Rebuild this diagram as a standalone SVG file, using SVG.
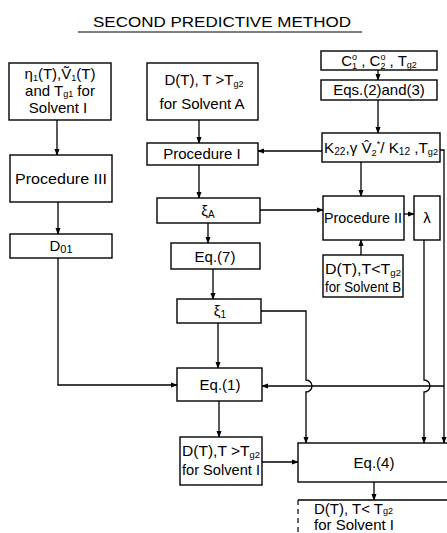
<svg xmlns="http://www.w3.org/2000/svg" width="447" height="533" viewBox="0 0 447 533">
<style>
.b{fill:#fff;stroke:#000;stroke-width:1.4}
.t{font-family:"Liberation Sans",Arial,sans-serif;font-size:15px;fill:#000}
.c{stroke:#000;stroke-width:1.3;fill:none}
.a{stroke:#000;stroke-width:1.3;fill:none;marker-end:url(#ah)}
</style>
<defs>
<marker id="ah" markerWidth="7" markerHeight="6" refX="6" refY="3" orient="auto" markerUnits="userSpaceOnUse">
<path d="M0,0.5 L7,3 L0,5.5 Z" fill="#000"/>
</marker>
</defs>
<rect width="447" height="533" fill="#fff"/>
<g id="title">
<text class="t" x="222" y="27" text-anchor="middle" font-size="16" textLength="258" lengthAdjust="spacingAndGlyphs">SECOND PREDICTIVE METHOD</text>
<line x1="78" y1="32" x2="362" y2="32" stroke="#000" stroke-width="1.2"/>
</g>
<g id="connectors">
<line class="a" x1="57" y1="120" x2="57" y2="155"/>
<line class="a" x1="199" y1="120" x2="199" y2="143"/>
<line class="a" x1="378" y1="70" x2="378" y2="80"/>
<line class="a" x1="378" y1="100" x2="378" y2="133"/>
<line class="a" x1="322" y1="151" x2="258" y2="151"/>
<line class="a" x1="199" y1="165" x2="199" y2="198"/>
<line class="a" x1="361" y1="162" x2="361" y2="196"/>
<line class="a" x1="260" y1="210" x2="323" y2="210"/>
<line class="a" x1="404" y1="214" x2="414" y2="214"/>
<line class="a" x1="361" y1="255" x2="361" y2="240"/>
<line class="a" x1="208" y1="223" x2="208" y2="243"/>
<line class="a" x1="58" y1="202" x2="58" y2="234"/>
<line class="a" x1="213" y1="269" x2="213" y2="299"/>
<line class="a" x1="218" y1="323" x2="218" y2="368"/>
<polyline class="a" points="58,258 58,385 177,385"/>
<path class="a" d="M261,311 H306 V380 A6,6 0 0 1 306,392 V443"/>
<path class="a" d="M424,240 V380 A6,6 0 0 1 424,392 V443"/>
<polyline class="a" points="440,150 444,150 444,443"/>
<line class="a" x1="444" y1="386" x2="262" y2="386"/>
<line class="a" x1="219" y1="401" x2="219" y2="437"/>
<line class="a" x1="262" y1="462" x2="298" y2="462"/>
<line class="a" x1="374" y1="482" x2="374" y2="500"/>
</g>
<g id="n1">
<rect class="b" x="9" y="63" width="102" height="57"/>
<text class="t" x="60" y="79" text-anchor="middle">η<tspan font-size="9" dy="2">1</tspan><tspan dy="-2">(T),V&#771;</tspan><tspan font-size="9" dy="2">1</tspan><tspan dy="-2">(T)</tspan></text>
<text class="t" x="60" y="96" text-anchor="middle">and T<tspan font-size="9" dy="1">g1</tspan><tspan dy="-1"> for</tspan></text>
<text class="t" x="58" y="113" text-anchor="middle">Solvent  I</text>
</g>
<g id="n2">
<rect class="b" x="147" y="63" width="111" height="57"/>
<text class="t" x="204" y="85" text-anchor="middle">D(T), T &gt;T<tspan font-size="9" dy="2">g2</tspan></text>
<text class="t" x="202" y="109" text-anchor="middle">for Solvent A</text>
</g>
<g id="nC">
<rect class="b" x="321" y="51" width="116" height="19"/>
<text class="t" x="379" y="66" text-anchor="middle">C<tspan font-size="9" dy="3">1</tspan><tspan font-size="9" dx="-5" dy="-9">o</tspan><tspan dy="6"> , C</tspan><tspan font-size="9" dy="3">2</tspan><tspan font-size="9" dx="-5" dy="-9">o</tspan><tspan dy="6"> , T</tspan><tspan font-size="9" dy="2">g2</tspan></text>
</g>
<g id="nEqs">
<rect class="b" x="321" y="80" width="116" height="20"/>
<text class="t" x="379" y="95" text-anchor="middle">Eqs.(2)and(3)</text>
</g>
<g id="nK">
<rect class="b" x="322" y="133" width="118" height="29"/>
<text class="t" x="381" y="153" text-anchor="middle" textLength="114" lengthAdjust="spacingAndGlyphs">K<tspan font-size="10" dy="2">22</tspan><tspan dy="-2">,γ V&#770;</tspan><tspan font-size="9" dy="3">2</tspan><tspan font-size="9" dy="-9">*</tspan><tspan dy="6">/ K</tspan><tspan font-size="10" dy="2">12</tspan><tspan dy="-2"> ,T</tspan><tspan font-size="9" dy="2">g2</tspan></text>
</g>
<g id="nP1">
<rect class="b" x="147" y="143" width="111" height="22"/>
<text class="t" x="202" y="159" text-anchor="middle">Procedure  I</text>
</g>
<g id="nP3">
<rect class="b" x="10" y="155" width="102" height="47"/>
<text class="t" x="61" y="184" text-anchor="middle" textLength="92" lengthAdjust="spacingAndGlyphs">Procedure III</text>
</g>
<g id="nXA">
<rect class="b" x="157" y="198" width="103" height="25"/>
<text class="t" x="208" y="216" text-anchor="middle" font-size="16">ξ<tspan font-size="10" dy="2">A</tspan></text>
</g>
<g id="nP2">
<rect class="b" x="323" y="196" width="81" height="44"/>
<text class="t" x="363" y="223" text-anchor="middle" textLength="78" lengthAdjust="spacingAndGlyphs">Procedure II</text>
</g>
<g id="nL">
<rect class="b" x="414" y="196" width="26" height="44"/>
<text class="t" x="427" y="223" text-anchor="middle" font-size="17">λ</text>
</g>
<g id="nE7">
<rect class="b" x="171" y="243" width="89" height="26"/>
<text class="t" x="215" y="262" text-anchor="middle">Eq.(7)</text>
</g>
<g id="nD01">
<rect class="b" x="10" y="234" width="102" height="24"/>
<text class="t" x="61" y="251" text-anchor="middle">D<tspan font-size="11" dy="2">01</tspan></text>
</g>
<g id="nDB">
<rect class="b" x="323" y="255" width="80" height="42"/>
<text class="t" x="363" y="274" text-anchor="middle" textLength="76" lengthAdjust="spacingAndGlyphs">D(T),T&lt;T<tspan font-size="9" dy="2">g2</tspan></text>
<text class="t" x="363" y="292" text-anchor="middle" textLength="76" lengthAdjust="spacingAndGlyphs">for Solvent B</text>
</g>
<g id="nX1">
<rect class="b" x="177" y="299" width="84" height="24"/>
<text class="t" x="220" y="316" text-anchor="middle" font-size="16">ξ<tspan font-size="10" dy="2">1</tspan></text>
</g>
<g id="nE1">
<rect class="b" x="177" y="368" width="85" height="33"/>
<text class="t" x="220" y="390" text-anchor="middle" font-size="16">Eq.(1)</text>
</g>
<g id="nD1">
<rect class="b" x="180" y="437" width="82" height="48"/>
<text class="t" x="221" y="456" text-anchor="middle" textLength="78" lengthAdjust="spacingAndGlyphs">D(T),T &gt;T<tspan font-size="9" dy="2">g2</tspan></text>
<text class="t" x="221" y="475" text-anchor="middle" textLength="78" lengthAdjust="spacingAndGlyphs">for Solvent I</text>
</g>
<g id="nE4">
<rect class="b" x="298" y="443" width="160" height="39"/>
<text class="t" x="374" y="468" text-anchor="middle" font-size="16">Eq.(4)</text>
</g>
<g id="nOut">
<line x1="298" y1="500" x2="447" y2="500" stroke="#000" stroke-width="1.4"/>
<line x1="298" y1="500" x2="298" y2="533" stroke="#000" stroke-width="1.2" stroke-dasharray="5,4"/>
<text class="t" x="314" y="514" font-size="13">D(T),  T&lt; T<tspan font-size="9">g2</tspan></text>
<text class="t" x="314" y="530" font-size="13">for  Solvent I</text>
</g>
</svg>
